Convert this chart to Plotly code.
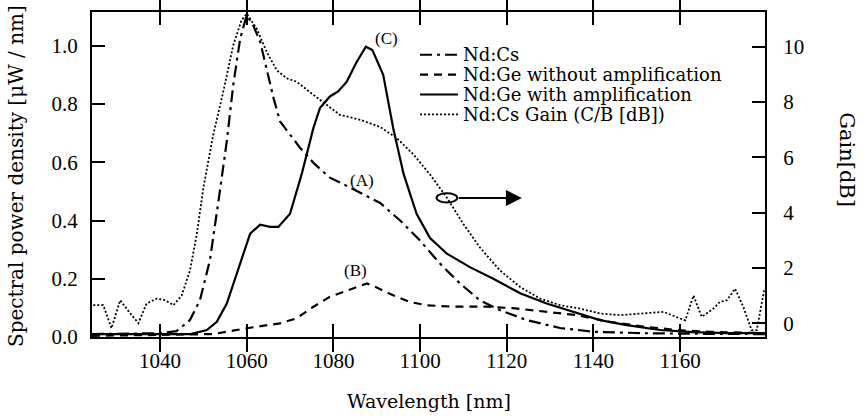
import plotly.graph_objects as go

# Wavelength grids [nm] and spectral power density [uW/nm]
wl_cs = [1024.3, 1040.0, 1043.8, 1046.9, 1049.2, 1051.5, 1053.5, 1055.4, 1056.9, 1058.5, 1060.0,
         1061.5, 1063.1, 1064.6, 1066.2, 1067.7, 1070.0, 1072.3, 1075.4, 1079.2, 1083.1, 1086.9,
         1090.8, 1095.4, 1100.0, 1104.6, 1109.2, 1113.8, 1118.5, 1124.6, 1132.3, 1140.0, 1151.5,
         1165.0, 1179.6]
nd_cs = [0.010, 0.013, 0.020, 0.058, 0.126, 0.263, 0.468, 0.672, 0.866, 1.025, 1.105,
         1.070, 1.014, 0.922, 0.820, 0.740, 0.695, 0.650, 0.598, 0.547, 0.519, 0.490,
         0.460, 0.400, 0.331, 0.252, 0.184, 0.126, 0.092, 0.058, 0.031, 0.018, 0.013,
         0.011, 0.010]

wl_ge_b = [1024.3, 1045.0, 1052.3, 1060.0, 1067.7, 1071.5, 1075.4, 1079.2, 1083.1, 1087.7,
           1090.0, 1093.8, 1097.7, 1101.5, 1107.7, 1115.4, 1121.5, 1129.2, 1136.2, 1143.8,
           1151.5, 1159.2, 1166.9, 1179.6]
nd_ge_b = [0.004, 0.008, 0.010, 0.030, 0.047, 0.064, 0.104, 0.138, 0.160, 0.184,
           0.170, 0.143, 0.120, 0.109, 0.104, 0.104, 0.099, 0.086, 0.075, 0.052,
           0.036, 0.024, 0.018, 0.013]

wl_ge_c = [1024.3, 1047.0, 1050.8, 1053.1, 1055.4, 1057.7, 1060.8, 1063.1, 1065.4, 1067.3,
           1070.0, 1072.7, 1075.4, 1076.9, 1079.2, 1081.1, 1083.1, 1085.4, 1087.5, 1089.0,
           1091.5, 1093.8, 1096.2, 1099.2, 1102.3, 1106.2, 1111.5, 1116.9, 1123.1, 1129.2,
           1135.4, 1141.5, 1147.7, 1155.4, 1163.0, 1170.8, 1179.6]
nd_ge_c = [0.010, 0.010, 0.024, 0.052, 0.115, 0.220, 0.355, 0.386, 0.378, 0.378,
           0.423, 0.560, 0.718, 0.786, 0.826, 0.843, 0.877, 0.945, 0.997, 0.985,
           0.900, 0.718, 0.560, 0.423, 0.340, 0.286, 0.240, 0.200, 0.150, 0.115,
           0.086, 0.058, 0.041, 0.024, 0.017, 0.013, 0.013]

# Gain C/B [dB]
wl_gain = [1024.6, 1026.9, 1028.8, 1030.8, 1033.1, 1035.0, 1036.9, 1039.2, 1041.2, 1043.1,
           1045.0, 1046.9, 1048.5, 1050.0, 1052.3, 1054.6, 1056.9, 1058.8, 1060.0, 1062.3,
           1064.6, 1066.9, 1069.2, 1071.5, 1075.4, 1078.5, 1081.5, 1086.2, 1090.8, 1094.6,
           1098.5, 1102.3, 1106.2, 1110.0, 1113.8, 1118.5, 1123.1, 1127.7, 1132.3, 1136.9,
           1141.5, 1146.2, 1151.5, 1156.2, 1160.0, 1161.2, 1163.1, 1165.0, 1167.7, 1169.2,
           1170.8, 1172.7, 1174.6, 1176.5, 1177.7, 1179.4]
gain_db = [0.65, 0.65, -0.18, 0.83, 0.36, 0.00, 0.71, 0.89, 0.83, 0.65,
           1.00, 1.90, 3.23, 4.90, 6.83, 8.38, 10.06, 10.96, 11.20, 10.66,
           9.82, 9.16, 8.86, 8.74, 8.26, 7.90, 7.54, 7.36, 7.10, 6.70,
           6.10, 5.38, 4.54, 3.59, 2.74, 1.90, 1.31, 0.89, 0.65, 0.53,
           0.35, 0.29, 0.35, 0.41, 0.17, 0.10, 1.00, 0.23, 0.53, 0.77,
           0.83, 1.25, 0.59, -0.25, -0.25, 1.19]

x_ticks = [1040, 1060, 1080, 1100, 1120, 1140, 1160]
left_ticks = [0.0, 0.2, 0.4, 0.6, 0.8, 1.0]
right_ticks = [0, 2, 4, 6, 8, 10]

series_names = ["Nd:Cs", "Nd:Ge without amplification", "Nd:Ge with amplification",
                "Nd:Cs Gain (C/B [dB])"]

SERIF = "Liberation Serif"
WIDE_SERIF = "DejaVu Serif"

styles = [
    dict(color="black", width=2.2, dash="12px,5px,3px,5px"),
    dict(color="black", width=2.2, dash="8px,6px"),
    dict(color="black", width=2.2),
    dict(color="black", width=1.8, dash="2px,2px"),
]

fig = go.Figure()
fig.add_trace(go.Scatter(x=wl_cs, y=nd_cs, mode="lines", name=series_names[0], line=styles[0]))
fig.add_trace(go.Scatter(x=wl_ge_b, y=nd_ge_b, mode="lines", name=series_names[1], line=styles[1]))
fig.add_trace(go.Scatter(x=wl_ge_c, y=nd_ge_c, mode="lines", name=series_names[2], line=styles[2]))
fig.add_trace(go.Scatter(x=wl_gain, y=gain_db, mode="lines", name=series_names[3],
                         yaxis="y2", line=styles[3]))

tick_font = dict(family=SERIF, size=21, color="black")

common_axis = dict(ticks="inside", ticklen=13, tickwidth=2, tickcolor="black", showline=True,
                   linewidth=2, linecolor="black", showgrid=False, zeroline=False,
                   tickfont=tick_font)

fig.update_layout(
    width=866, height=417,
    margin=dict(l=92, r=101, t=10, b=80),
    paper_bgcolor="white", plot_bgcolor="white",
    font=dict(family=SERIF, color="black"),
    showlegend=False,
    xaxis=dict(range=[1024.3, 1179.6], tickvals=x_ticks, mirror="allticks",
               ticklabelstandoff=4, **common_axis),
    yaxis=dict(range=[0, 1.116], tickvals=left_ticks, tickformat=".1f",
               ticklabelstandoff=8, **common_axis),
    yaxis2=dict(range=[-0.5, 11.26], tickvals=right_ticks, overlaying="y", side="right",
                ticklabelstandoff=12, **common_axis),
)

# Axis titles
fig.add_annotation(text="Wavelength [nm]", xref="paper", yref="paper", x=0.5, y=-0.196,
                   xanchor="center", yanchor="middle", showarrow=False,
                   font=dict(family=WIDE_SERIF, size=19, color="black"))
fig.add_annotation(text="Spectral power density [\u03bcW / nm]", xref="paper", yref="paper",
                   x=-0.112, y=0.494, xanchor="center", yanchor="middle", textangle=-90,
                   showarrow=False, font=dict(family=WIDE_SERIF, size=20, color="black"))
fig.add_annotation(text="Gain[dB]", xref="paper", yref="paper", x=1.1214, y=0.545,
                   xanchor="center", yanchor="middle", textangle=90, showarrow=False,
                   font=dict(family=WIDE_SERIF, size=21, color="black"))

# Key: line samples and series names
key_rows = [0.8685, 0.8073, 0.7462, 0.6850]
for name, style, ky in zip(series_names, styles, key_rows):
    fig.add_shape(type="line", xref="paper", yref="paper", x0=0.4874, x1=0.5438, y0=ky, y1=ky,
                  line=dict(color="black", width=style["width"], dash=style.get("dash", "solid")))
    fig.add_annotation(text=name, xref="paper", yref="paper", x=0.5483, y=ky, xanchor="left",
                       yanchor="middle", showarrow=False,
                       font=dict(family=WIDE_SERIF, size=18, color="black"))

# Curve labels
for label, lx, ly in [("(A)", 1086.6, 0.536), ("(B)", 1085.0, 0.229), ("(C)", 1092.2, 1.024)]:
    fig.add_annotation(text=label, x=lx, y=ly, xref="x", yref="y", showarrow=False,
                       font=dict(family=SERIF, size=17, color="black"))

# Ellipse around the gain curve with an arrow pointing to the right axis
fig.add_shape(type="circle", xref="x", yref="y2", x0=1103.8, x1=1108.6, y0=4.37, y1=4.70,
              line=dict(color="black", width=2))
fig.add_annotation(x=1123.5, y=4.53, ax=1108.6, ay=4.53, xref="x", yref="y2",
                   axref="x", ayref="y2", text="", showarrow=True, arrowhead=2,
                   arrowsize=1.6, arrowwidth=2, arrowcolor="black")

fig.write_html("out.html")
